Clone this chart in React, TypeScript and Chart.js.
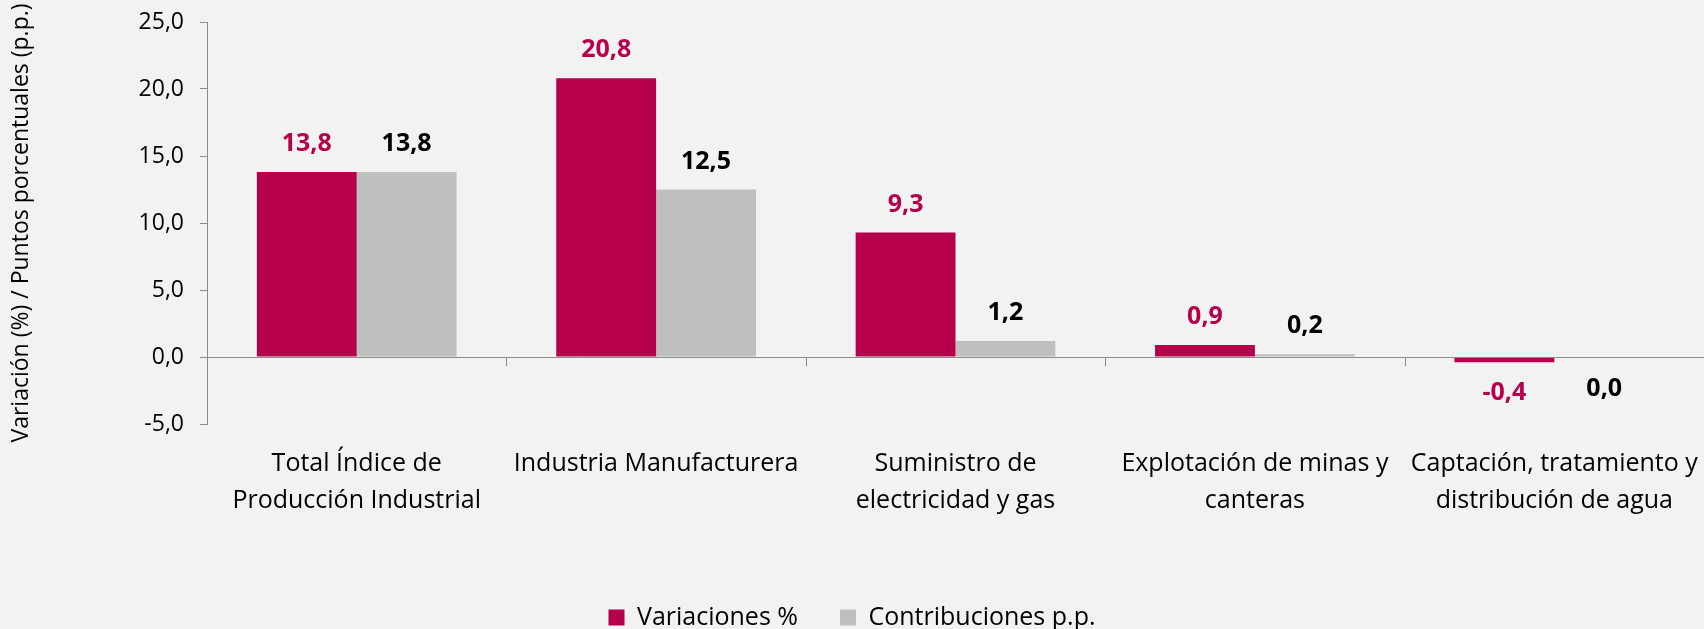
import React, { useEffect, useRef } from "react";
import { Chart, registerables } from "chart.js";

Chart.register(...registerables);

const categories: (string | string[])[] = [
  ["Total Índice de", "Producción Industrial"],
  "Industria Manufacturera",
  ["Suministro de", "electricidad y gas"],
  ["Explotación de minas y", "canteras"],
  ["Captación, tratamiento y", "distribución de agua"],
];
const variaciones: number[] = [13.8, 20.8, 9.3, 0.9, -0.4];
const contribuciones: number[] = [13.8, 12.5, 1.2, 0.2, -0.01];
const seriesNames: string[] = ["Variaciones %", "Contribuciones p.p."];
const yTitle = "Variación (%) / Puntos porcentuales (p.p.)";

const MAGENTA = "#B7004B";
const GRAY = "#BFBFBF";
const AXIS = "#8C8C8C";
const FONT = "'Open Sans', 'Noto Sans', sans-serif";

const fmt = (v: number) => v.toFixed(1).replace(".", ",").replace("-0,0", "0,0");

const labelPlugin = {
  id: "barLabels",
  afterDatasetsDraw(chart: any) {
    const ctx = chart.ctx;
    ctx.save();
    ctx.font = `bold 25px ${FONT}`;
    ctx.textAlign = "center";
    ctx.textBaseline = "middle";
    chart.data.datasets.forEach((ds: any, di: number) => {
      const meta = chart.getDatasetMeta(di);
      meta.data.forEach((el: any, i: number) => {
        const v = ds.data[i] as number;
        const y = v >= 0 ? el.y - 28 : Math.max(el.y, el.base) + 31;
        ctx.fillStyle = di === 0 ? MAGENTA : "#000000";
        ctx.fillText(fmt(v), el.x, y);
      });
    });
    ctx.restore();
  },
};

const axisPlugin = {
  id: "zeroAxisTicks",
  afterDatasetsDraw(chart: any) {
    const ctx = chart.ctx;
    const xs = chart.scales.x;
    const ys = chart.scales.y;
    const y0 = Math.round(ys.getPixelForValue(0));
    ctx.save();
    ctx.strokeStyle = AXIS;
    ctx.lineWidth = 1;
    ctx.beginPath();
    ctx.moveTo(chart.chartArea.left, y0 + 0.5);
    ctx.lineTo(chart.chartArea.right, y0 + 0.5);
    const n = chart.data.labels.length;
    const w = xs.getPixelForValue(1) - xs.getPixelForValue(0);
    for (let i = 1; i <= n; i++) {
      const x = Math.round(xs.getPixelForValue(i - 1) + w / 2) + 0.5;
      ctx.moveTo(x, y0);
      ctx.lineTo(x, y0 + 9);
    }
    ctx.stroke();
    ctx.restore();
  },
};

export default function App() {
  const ref = useRef<HTMLCanvasElement>(null);
  useEffect(() => {
    document.body.style.margin = "0";
    document.body.style.background = "#F2F2F2";
    if (!ref.current) return;
    const chart = new Chart(ref.current, {
      type: "bar",
      data: {
        labels: categories,
        datasets: [
          {
            label: seriesNames[0],
            data: variaciones,
            backgroundColor: MAGENTA,
            barPercentage: 1,
            categoryPercentage: 0.667,
          },
          {
            label: seriesNames[1],
            data: contribuciones,
            backgroundColor: GRAY,
            barPercentage: 1,
            categoryPercentage: 0.667,
          },
        ],
      },
      options: {
        animation: false,
        responsive: true,
        maintainAspectRatio: false,
        layout: { padding: { left: 0, right: 0, top: 0, bottom: -11 } },
        plugins: {
          tooltip: { enabled: false },
          legend: {
            position: "bottom",
            labels: {
              boxWidth: 16,
              boxHeight: 16,
              padding: 42,
              color: "#000",
              font: { family: FONT, size: 25 },
            },
          },
        },
        scales: {
          x: {
            grid: { display: false, drawTicks: false },
            border: { display: false },
            ticks: {
              color: "#000",
              padding: 21,
              maxRotation: 0,
              autoSkip: false,
              font: { family: FONT, size: 25, lineHeight: 1.48 },
            },
            afterFit: (s: any) => {
              s.height = 139;
              s.paddingLeft = 0;
              s.paddingRight = 0;
            },
          },
          y: {
            min: -5,
            max: 25,
            ticks: {
              stepSize: 5,
              color: "#000",
              padding: 16,
              font: { family: FONT, size: 23 },
              callback: (v: any) => fmt(Number(v)),
            },
            grid: {
              drawOnChartArea: false,
              drawTicks: true,
              tickLength: 7,
              tickColor: AXIS,
            },
            border: { display: true, color: AXIS },
            title: {
              display: true,
              text: yTitle,
              color: "#000",
              font: { family: FONT, size: 23 },
              padding: { top: 8, bottom: 0 },
            },
            afterFit: (s: any) => {
              s.width = 207;
              s.paddingTop = 22;
              s.paddingBottom = 0;
            },
          },
        },
      },
      plugins: [labelPlugin, axisPlugin],
    });
    return () => chart.destroy();
  }, []);
  return (
    <div style={{ width: 1704, height: 629, background: "#F2F2F2", position: "relative" }}>
      <canvas ref={ref} />
    </div>
  );
}
